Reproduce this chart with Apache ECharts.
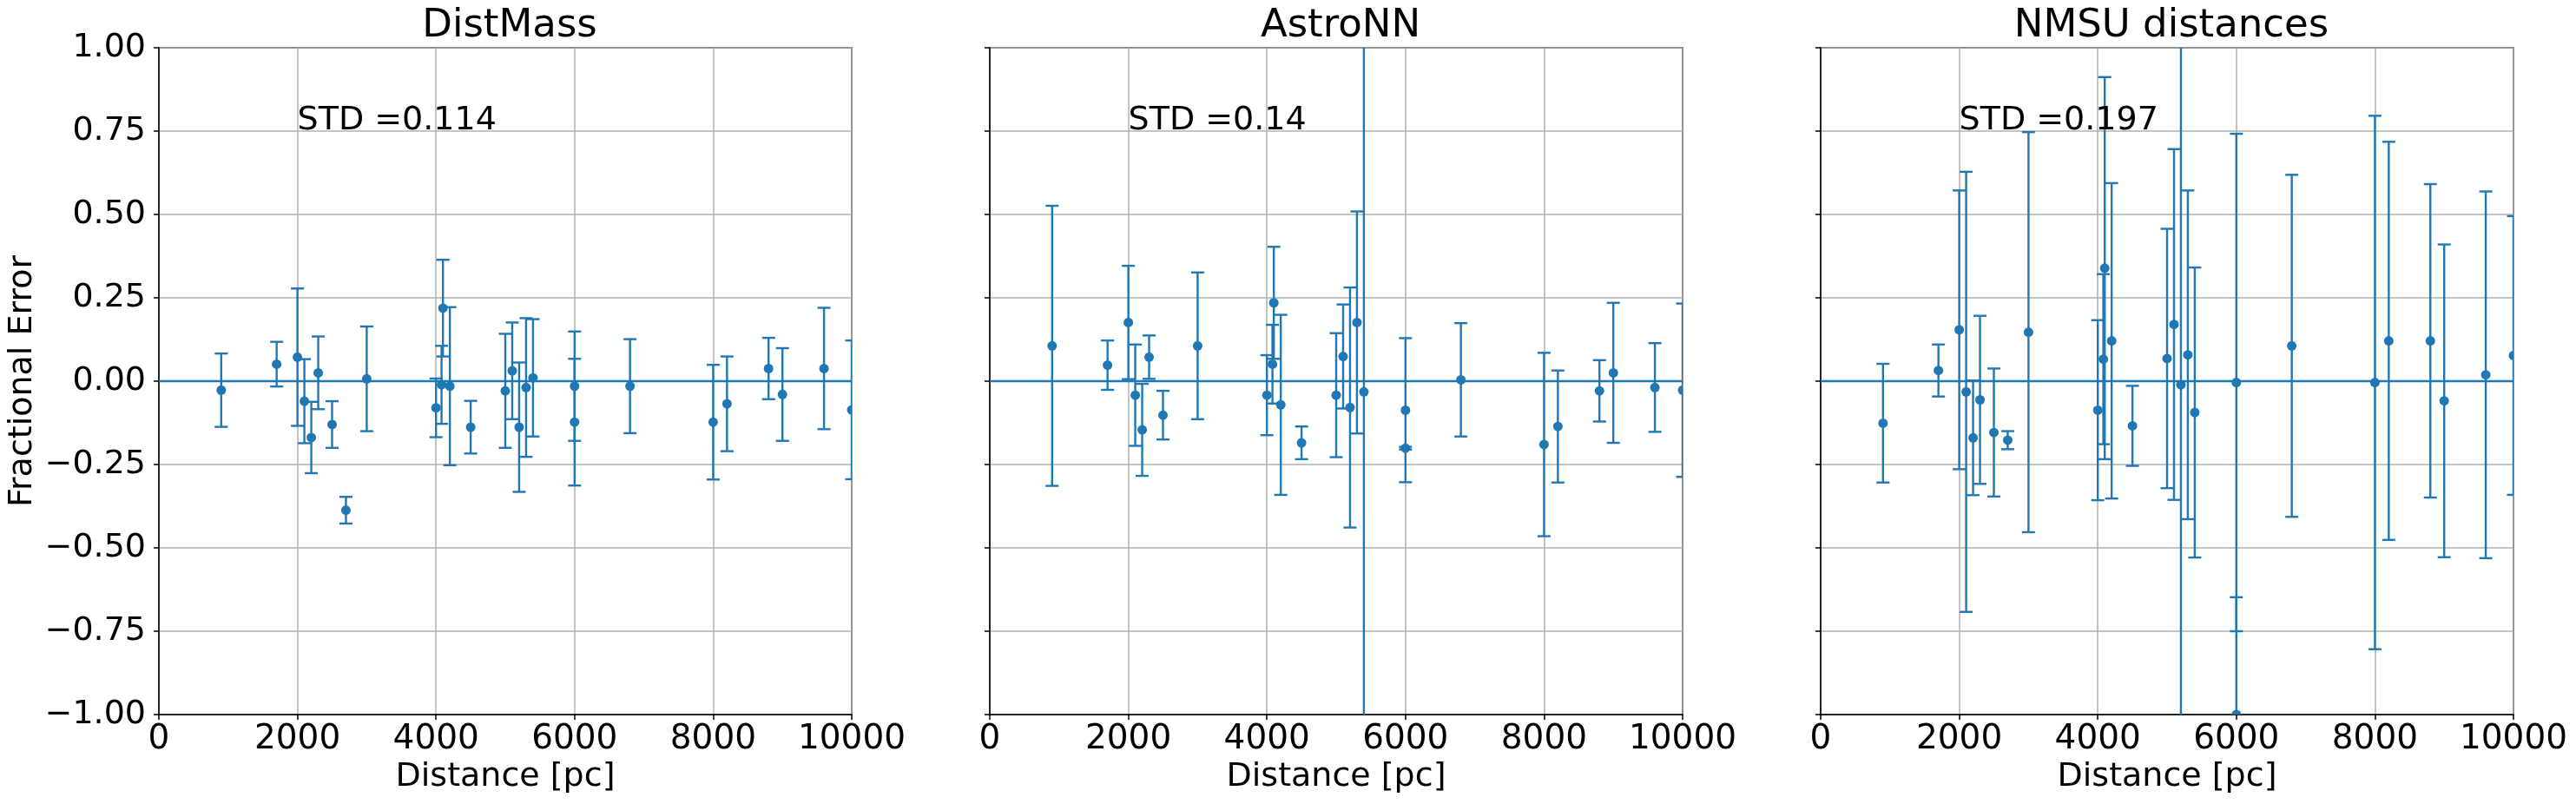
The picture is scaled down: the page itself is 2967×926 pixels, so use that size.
<!DOCTYPE html>
<html>
<head>
<meta charset="utf-8">
<script src="https://cdn.jsdelivr.net/npm/echarts@6.0.0/dist/echarts.min.js"></script>
<style>
  html, body { margin: 0; padding: 0; background: #fff; }
  #main { width: 2967px; height: 926px; }
</style>
</head>
<body>
<div id="main"></div>
<script>
// panel titles and the std annotation
const panelTitles = ['DistMass', 'AstroNN', 'NMSU distances'];
const stdLabels = ['STD =0.114', 'STD =0.14', 'STD =0.197'];

// x / y ticks
const xTicks = [0, 2000, 4000, 6000, 8000, 10000];
const yTicks = [-1, -0.75, -0.5, -0.25, 0, 0.25, 0.5, 0.75, 1];

// DistMass
const distMassDist = [900, 1700, 2000, 2100, 2200, 2300, 2500, 2700, 3000, 4000, 4080, 4100, 4200, 4500, 5000, 5100, 5200, 5300, 5400, 6000, 6000, 6800, 8000, 8200, 8800, 9000, 9600, 10000];
const distMassFrac = [-0.027, 0.051, 0.072, -0.060, -0.169, 0.025, -0.130, -0.387, 0.007, -0.080, -0.011, 0.219, -0.015, -0.138, -0.029, 0.031, -0.138, -0.019, 0.010, -0.015, -0.123, -0.015, -0.123, -0.068, 0.038, -0.040, 0.038, -0.086];
const distMassErr = [0.110, 0.067, 0.206, 0.126, 0.107, 0.109, 0.070, 0.040, 0.157, 0.088, 0.117, 0.145, 0.237, 0.079, 0.171, 0.145, 0.194, 0.208, 0.176, 0.164, 0.190, 0.141, 0.172, 0.142, 0.092, 0.139, 0.182, 0.208];

// AstroNN
const astroNNDist = [900, 1700, 2000, 2100, 2200, 2300, 2500, 3000, 4000, 4080, 4100, 4200, 4500, 5000, 5100, 5200, 5300, 5400, 6000, 6000, 6800, 8000, 8200, 8800, 9000, 9600, 10000];
const astroNNFrac = [0.106, 0.048, 0.176, -0.042, -0.146, 0.072, -0.102, 0.106, -0.042, 0.051, 0.235, -0.071, -0.185, -0.042, 0.074, -0.079, 0.176, -0.032, -0.087, -0.201, 0.004, -0.190, -0.136, -0.029, 0.025, -0.019, -0.027];
const astroNNErr = [0.420, 0.074, 0.170, 0.152, 0.138, 0.065, 0.073, 0.220, 0.120, 0.118, 0.168, 0.270, 0.049, 0.186, 0.156, 0.360, 0.333, 1.800, 0.216, 0.004, 0.170, 0.275, 0.168, 0.092, 0.210, 0.133, 0.260];

// NMSU distances
const nmsuDist = [900, 1700, 2000, 2100, 2200, 2300, 2500, 2700, 3000, 4000, 4080, 4100, 4200, 4500, 5000, 5100, 5200, 5300, 5400, 6000, 6000, 6800, 8000, 8200, 8800, 9000, 9600, 10000];
const nmsuFrac = [-0.126, 0.032, 0.154, -0.032, -0.170, -0.056, -0.154, -0.177, 0.147, -0.087, 0.066, 0.339, 0.121, -0.134, 0.068, 0.170, -0.011, 0.079, -0.094, -0.004, -1.000, 0.106, -0.004, 0.121, 0.121, -0.059, 0.019, 0.077];
const nmsuErr = [0.178, 0.078, 0.418, 0.660, 0.172, 0.252, 0.192, 0.027, 0.600, 0.270, 0.255, 0.573, 0.473, 0.120, 0.389, 0.526, 1.500, 0.493, 0.435, 0.746, 0.352, 0.513, 0.800, 0.597, 0.470, 0.469, 0.550, 0.418];

const panels = [
  { dist: distMassDist, frac: distMassFrac, err: distMassErr },
  { dist: astroNNDist, frac: astroNNFrac, err: astroNNErr },
  { dist: nmsuDist, frac: nmsuFrac, err: nmsuErr }
];

const blue = '#1f77b4';
const font = 'DejaVu Sans';
const gridLefts = [183, 1140, 2097];
const gridTop = 55;
const gridW = 798;
const gridH = 768;
const yMin = yTicks[0];
const yMax = yTicks[yTicks.length - 1];

const fmtY = v => {
  const s = Math.abs(v).toFixed(2);
  return v < 0 ? '\u2212' + s : s;
};

const clampY = v => Math.max(yMin, Math.min(yMax, v));

const errorBarItem = (params, api) => {
  const x = api.value(0);
  const y = api.value(1);
  const e = api.value(2);
  const hi = y + e;
  const lo = y - e;
  const top = api.coord([x, clampY(hi)]);
  const bot = api.coord([x, clampY(lo)]);
  const style = { stroke: blue, lineWidth: 2.4 };
  const children = [{
    type: 'line',
    shape: { x1: top[0], y1: top[1], x2: bot[0], y2: bot[1] },
    style: style
  }];
  const cap = 7.5;
  if (hi <= yMax) {
    children.push({ type: 'line', shape: { x1: top[0] - cap, y1: top[1], x2: top[0] + cap, y2: top[1] }, style: style });
  }
  if (lo >= yMin) {
    children.push({ type: 'line', shape: { x1: bot[0] - cap, y1: bot[1], x2: bot[0] + cap, y2: bot[1] }, style: style });
  }
  return { type: 'group', children: children };
};

const dotItem = (params, api) => {
  const p = api.coord([api.value(0), api.value(1)]);
  return {
    type: 'circle',
    shape: { cx: p[0], cy: p[1], r: 5.5 },
    style: { fill: blue }
  };
};

const stdTextItem = (label) => (params, api) => {
  const p = api.coord([api.value(0), api.value(1)]);
  return {
    type: 'text',
    x: p[0],
    y: p[1] + 7,
    style: {
      text: label,
      fill: '#000',
      font: '38px "DejaVu Sans"',
      textAlign: 'left',
      textVerticalAlign: 'bottom'
    }
  };
};

const grid = [];
const xAxis = [];
const yAxis = [];
const title = [];
const series = [];

panels.forEach((panel, i) => {
  grid.push({
    left: gridLefts[i], top: gridTop, width: gridW, height: gridH,
    show: true, borderColor: '#000', borderWidth: 1.5, backgroundColor: 'transparent'
  });
  title.push({
    text: panelTitles[i],
    left: gridLefts[i] + gridW / 2,
    top: 3,
    textAlign: 'center',
    textStyle: { fontSize: 45, fontWeight: 'normal', color: '#000', fontFamily: font }
  });
  xAxis.push({
    type: 'value', gridIndex: i,
    min: xTicks[0], max: xTicks[xTicks.length - 1], interval: 2000,
    name: 'Distance [pc]', nameLocation: 'middle', nameGap: 52,
    nameTextStyle: { fontSize: 38, color: '#000', fontFamily: font },
    axisLine: { show: true, onZero: false, lineStyle: { color: '#000', width: 1.5 } },
    axisTick: { show: true, length: 6, lineStyle: { color: '#000', width: 1.5 } },
    axisLabel: { show: true, margin: 9, fontSize: 39, color: '#000', fontFamily: font, formatter: v => String(v) },
    splitLine: { show: true, lineStyle: { color: '#b0b0b0', width: 1.5 } }
  });
  yAxis.push({
    type: 'value', gridIndex: i,
    min: yMin, max: yMax, interval: 0.25,
    name: i === 0 ? 'Fractional Error' : '',
    nameLocation: 'middle', nameGap: 138,
    nameTextStyle: { fontSize: 38, color: '#000', fontFamily: font },
    axisLine: { show: true, onZero: false, lineStyle: { color: '#000', width: 1.5 } },
    axisTick: { show: true, length: 6, lineStyle: { color: '#000', width: 1.5 } },
    axisLabel: { show: i === 0, margin: 15, fontSize: 38, color: '#000', fontFamily: font, formatter: fmtY },
    splitLine: { show: true, lineStyle: { color: '#b0b0b0', width: 1.5 } }
  });

  const bars = panel.dist.map((d, k) => [d, panel.frac[k], panel.err[k]]);
  const points = panel.dist.map((d, k) => [d, panel.frac[k]]);

  series.push({
    type: 'custom', xAxisIndex: i, yAxisIndex: i,
    renderItem: errorBarItem, data: bars, clip: true, silent: true, z: 2,
    encode: { x: 0, y: 1 }
  });
  series.push({
    type: 'line', xAxisIndex: i, yAxisIndex: i,
    data: [[xTicks[0], 0], [xTicks[xTicks.length - 1], 0]],
    showSymbol: false, silent: true, z: 3,
    lineStyle: { color: blue, width: 2.4 }
  });
  series.push({
    type: 'custom', xAxisIndex: i, yAxisIndex: i,
    renderItem: dotItem, data: points, clip: true, silent: true, z: 4,
    encode: { x: 0, y: 1 }
  });
  series.push({
    type: 'custom', xAxisIndex: i, yAxisIndex: i,
    renderItem: stdTextItem(stdLabels[i]), data: [[2000, 0.75]], silent: true, z: 5,
    encode: { x: 0, y: 1 }
  });
});

const myChart = echarts.init(document.getElementById('main'), null, { renderer: 'canvas' });
myChart.setOption({
  animation: false,
  backgroundColor: '#fff',
  title: title,
  grid: grid,
  xAxis: xAxis,
  yAxis: yAxis,
  series: series
});
</script>
</body>
</html>
